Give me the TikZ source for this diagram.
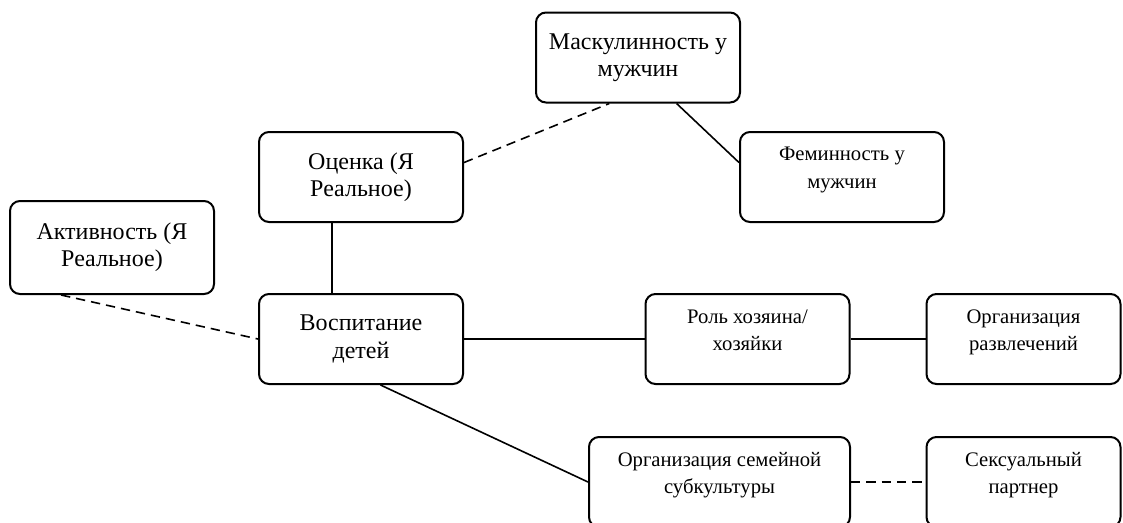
\documentclass[tikz,border=0pt]{standalone}
\usepackage{fontspec}
\setmainfont{Liberation Serif}
\usetikzlibrary{positioning}
\begin{document}
\begin{tikzpicture}[x=0.75pt, y=-0.75pt, align=center, line width=1.2pt]
\tikzstyle{box}=[draw, line width=1.5pt, rounded corners=7.5pt, minimum width=153pt, minimum height=67.5pt, inner sep=2pt]
\tikzstyle{big}=[box, font=\fontsize{18}{20.5}\selectfont, execute at end node={\\[-6pt]\mbox{}}]
\tikzstyle{small}=[box, font=\fontsize{15.5}{20.5}\selectfont, text depth=13.7pt]
\tikzstyle{broken}=[dash pattern=on 7pt off 4.5pt]
\useasboundingbox (0,0) rectangle (1123,522);
\node[big] (masc) at (638,57.5) {Маскулинность у\\мужчин};
\node[small] (fem) at (842,177) {Феминность у\\мужчин};
\node[big] (ocenka) at (361,177) {Оценка (Я\\Реальное)};
\node[big, minimum height=69.75pt] (aktiv) at (112,247.5) {Активность (Я\\Реальное)};
\node[big] (vosp) at (361,339) {Воспитание\\детей};
\node[small] (rol) at (747.5,339) {Роль хозяина/\\хозяйки};
\node[small, minimum width=145.5pt] (razvl) at (1023.5,339) {Организация\\развлечений};
\node[small, minimum width=195.75pt] (orgsem) at (719.5,482) {Организация семейной\\субкультуры};
\node[small, minimum width=145.5pt] (sex) at (1023.5,482) {Сексуальный\\партнер};
% links
\draw[broken] (ocenka.8) -- (masc.238);
\draw (masc.310) -- (fem.172);
\draw (ocenka.238) -- (ocenka.238 |- vosp.north);
\draw[broken] (aktiv.223) -- (vosp.west);
\draw (vosp.east) -- (rol.west);
\draw (rol.east) -- (razvl.west);
\draw (vosp.293) -- (orgsem.west);
\draw[broken] (orgsem.east) -- (sex.west);
\end{tikzpicture}
\end{document}
